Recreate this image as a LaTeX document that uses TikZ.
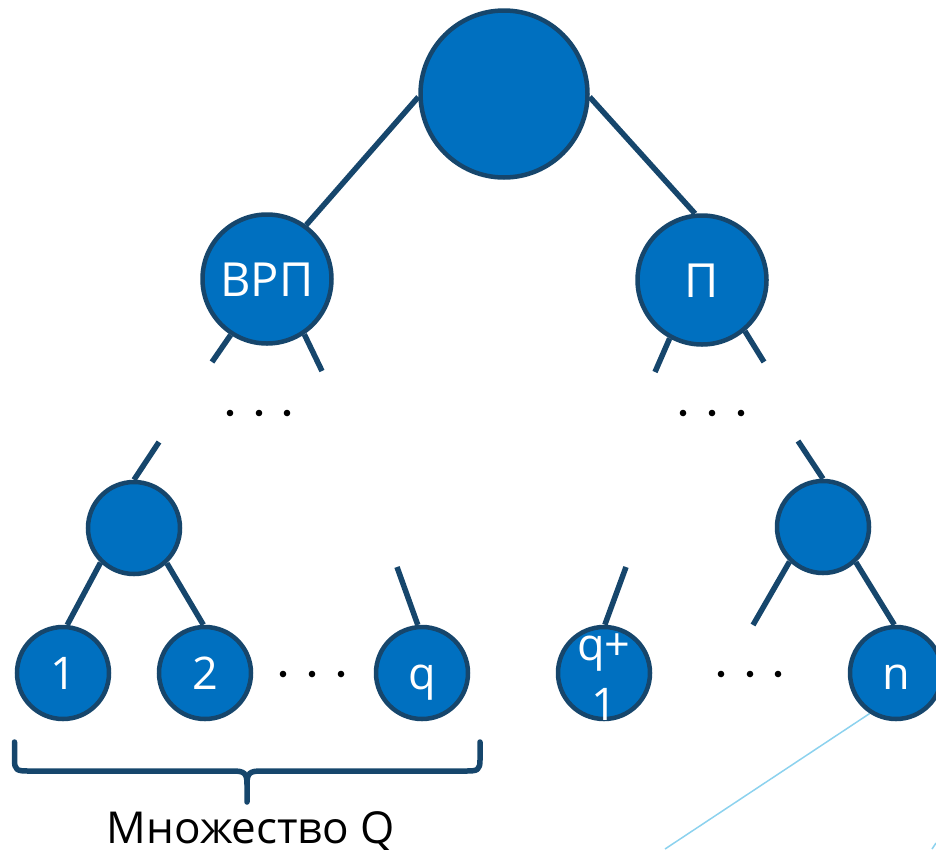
\documentclass[tikz,border=0pt]{standalone}
\usepackage{fontspec}
\setmainfont{Open Sans}
\definecolor{nodec}{RGB}{0,112,192}
\definecolor{edgec}{RGB}{22,70,108}
\definecolor{lightc}{RGB}{140,210,238}
\pgfdeclarelayer{bg}
\pgfsetlayers{bg,main}
\begin{document}
\begin{tikzpicture}[x=1pt,y=-1pt,
  tn/.style={circle, draw=edgec, fill=nodec, line width=4.5pt, text=white, inner sep=0pt,
    font=\fontsize{45}{54}\selectfont, text height=32pt, text depth=0pt},
  bignode/.style={tn, minimum size=167pt},
  midnode/.style={tn, minimum size=129pt, font=\fontsize{47}{56}\selectfont, text height=34pt},
  smallnode/.style={tn, minimum size=92pt},
  edge/.style={draw=edgec, line width=5.5pt},
  hint/.style={draw=lightc, line width=1.5pt},
  lbl/.style={text=white, font=\fontsize{45}{54}\selectfont, inner sep=0pt, anchor=base}]
\useasboundingbox (0,0) rectangle (936,849);

\node[bignode] (root) at (504,94) {};
\node[midnode] (vrp) at (267,279) {ВРП};
\node[midnode] (p) at (702,280) {П};
\node[smallnode] (L) at (134,528) {};
\node[smallnode] (R) at (823,527) {};
\node[smallnode] (n1) at (63,673) {1};
\node[smallnode] (n2) at (205,673) {2};
\node[smallnode] (nq) at (422,673) {q};
\node[smallnode] (nq1) at (604,673) {};
\node[lbl] (q1a) at (604,660) {q+};
\node[lbl] (q1b) at (604,720) {1};
\node[smallnode] (nn) at (896,673) {n};

\coordinate (vrpL) at (212,362);
\coordinate (vrpR) at (322,371);
\coordinate (pL) at (655,372);
\coordinate (pR) at (764,362);
\coordinate (Ltop) at (159,442);
\coordinate (qtop) at (397,567);
\coordinate (q1top) at (626,567);
\coordinate (Rtop) at (798,441);
\coordinate (RL) at (753,625);
\coordinate (lb) at (665,849);
\coordinate (c1) at (936,843);
\coordinate (c2) at (932,849);

\begin{pgfonlayer}{bg}
\draw[edge] (root.182) -- (vrp.54);
\draw[edge] (root.-2) -- (p.96);
\draw[edge] (vrp.237) -- (vrpL);
\draw[edge] (vrp.304) -- (vrpR);
\draw[edge] (p.241) -- (pL);
\draw[edge] (p.310) -- (pR);
\draw[edge] (Ltop) -- (L.90);
\draw[edge] (L.226) -- (n1.85);
\draw[edge] (L.313) -- (n2.92);
\draw[edge] (qtop) -- (nq.95);
\draw[edge] (q1top) -- (nq1.89);
\draw[edge] (Rtop) -- (R.90);
\draw[edge] (R.226) -- (RL);
\draw[edge] (R.313) -- (nn.92);
\draw[hint] (nn.237) -- (lb);
\draw[hint] (c1) -- (c2);
\end{pgfonlayer}

\foreach \x in {230,259,287} \fill (\x,413) circle (3.3pt);
\foreach \x in {683,712,741} \fill (\x,413) circle (3.3pt);
\foreach \x in {283,312,341} \fill (\x,674) circle (3.3pt);
\foreach \x in {721,750,778} \fill (\x,674) circle (3.3pt);

\draw[edge, line cap=round, line join=round]
  (14.5,742) -- (14.5,760) .. controls (14.5,770) and (17,771) .. (28,771)
  -- (233,771) .. controls (244,771) and (247,773) .. (247,784) -- (247,802);
\draw[edge, line cap=round, line join=round]
  (480,742) -- (480,760) .. controls (480,770) and (477.5,771) .. (466.5,771)
  -- (261,771) .. controls (250,771) and (247,773) .. (247,784);

\node[font=\fontsize{44}{50}\selectfont, anchor=base, inner sep=0pt] (setq) at (251,843) {Множество Q};
\end{tikzpicture}
\end{document}
